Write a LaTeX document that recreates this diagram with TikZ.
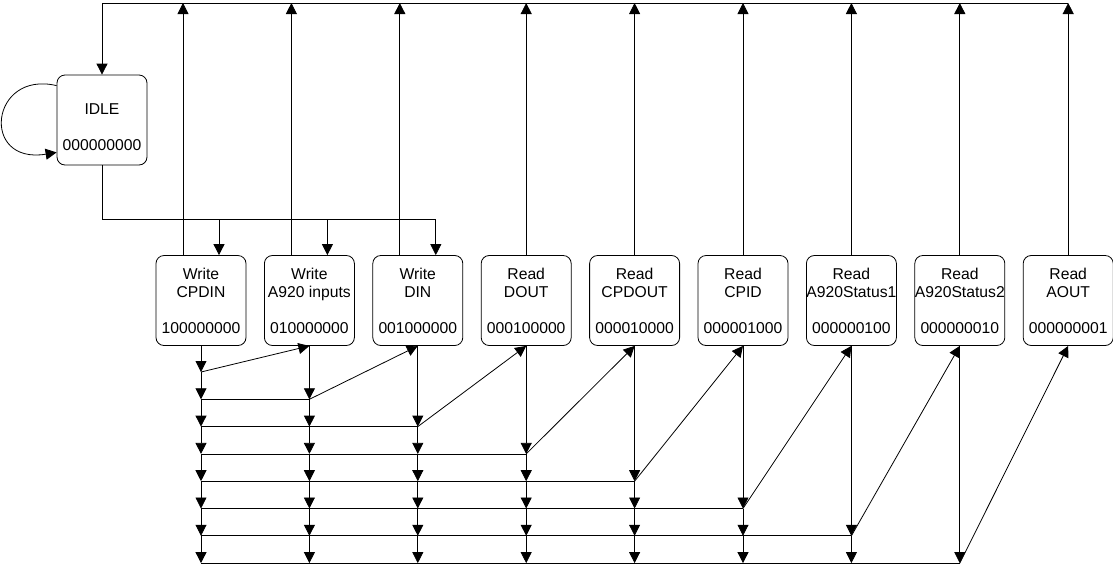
\documentclass[tikz,border=0pt]{standalone}
\usepackage{fontspec}
\setmainfont{Liberation Sans}
\usetikzlibrary{arrows.meta,calc}
\tikzset{
  state/.style={draw, line width=0.8pt, rounded corners=8pt, minimum width=90pt, minimum height=90pt,
    inner sep=0pt, align=center, font=\fontsize{15.7pt}{18pt}\selectfont},
  wire/.style={line width=0.8pt},
  arr/.style={-{Triangle[width=11pt,length=11pt]}},
}
\begin{document}
\begin{tikzpicture}[x=1pt,y=-1pt]
\useasboundingbox (0,0) rectangle (1113,566);

% IDLE state
\node[state, label={[align=center, font=\fontsize{15.7pt}{18pt}\selectfont, yshift=-7.5pt]center:{IDLE\\[18pt]000000000}}] (idle) at (102,120) {};

% the nine states
\foreach \i/\a/\b/\c in {1/Write/CPDIN/100000000, 2/Write/A920 inputs/010000000, 3/Write/DIN/001000000,
  4/Read/DOUT/000100000, 5/Read/CPDOUT/000010000, 6/Read/CPID/000001000,
  7/Read/A920Status1/000000100, 8/Read/A920Status2/000000010, 9/Read/AOUT/000000001}{
  \node[state] (b\i) at ({201+108.4*(\i-1)},300.5) {\a\\\b\\[18pt]\c};
}

% top return bus
\coordinate (tl) at (102,3);
\coordinate (tr) at (b9.north |- tl);
\draw[wire,arr] (tr) -- (tl) -- (idle.north);
\foreach \i in {1,2,3}{
  \draw[wire,arr] ([xshift=-18pt]b\i.north) -- ([xshift=-18pt]b\i.north |- tl);
}
\foreach \i in {4,...,9}{
  \draw[wire,arr] (b\i.north) -- (b\i.north |- tl);
}

% IDLE to write states
\coordinate (bl) at (102,219);
\draw[wire] (idle.south) -- (bl) -- ([xshift=18pt]b3.north |- bl);
\foreach \i in {1,2,3}{
  \draw[wire,arr] ([xshift=18pt]b\i.north |- bl) -- ([xshift=18pt]b\i.north);
}

% self loop
\draw[wire,arr] ([yshift=-11pt]idle.north west) .. controls (-10,70) and (-20,165) .. ([yshift=13pt]idle.south west);

% chain junctions
\foreach \i in {1,...,8}{
  \foreach \k in {0,...,7}{
    \coordinate (c-\i-\k) at ({201+108.4*(\i-1)},{372+27.3*\k});
  }
}
\foreach \i in {1,...,8}{
  \pgfmathtruncatemacro\s{\i-1}
  \draw[wire,arr] (b\i.south) -- (c-\i-\s);
  \ifnum\s<7
    \foreach \k in {\s,...,6}{
      \pgfmathtruncatemacro\n{\k+1}
      \draw[wire,arr] (c-\i-\k) -- (c-\i-\n);
    }
  \fi
}
\foreach \k in {0,...,7}{
  \pgfmathtruncatemacro\cc{\k+1}
  \pgfmathtruncatemacro\dd{\k+2}
  \ifnum\k>0 \draw[wire] (c-1-\k) -- (c-\cc-\k); \fi
  \draw[wire,arr] (c-\cc-\k) -- (b\dd.south);
}
\end{tikzpicture}
\end{document}
